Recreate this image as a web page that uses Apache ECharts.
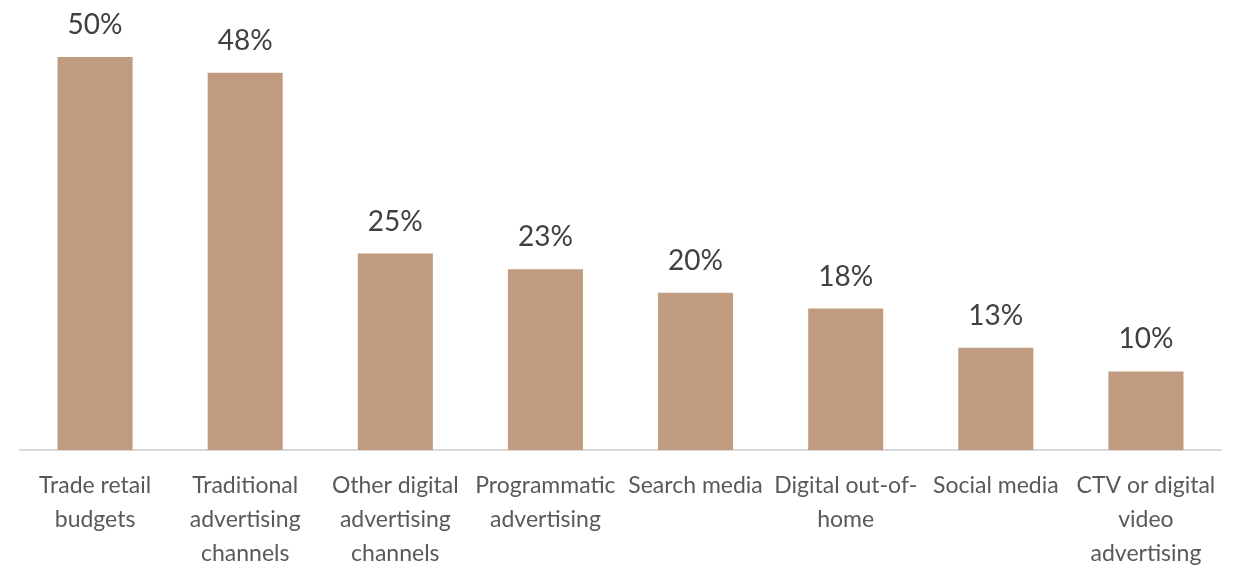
<!DOCTYPE html>
<html>
<head>
<meta charset="utf-8">
<script src="https://cdn.jsdelivr.net/npm/echarts@6/dist/echarts.min.js"></script>
<style>
  html, body { margin: 0; padding: 0; background: #ffffff; }
  #chart { width: 1242px; height: 571px; }
</style>
</head>
<body>
<div id="chart"></div>
<script>
// Channel categories (line breaks as they wrap under each bar)
const categories = [
  'Trade retail\nbudgets',
  'Traditional\nadvertising\nchannels',
  'Other digital\nadvertising\nchannels',
  'Programmatic\nadvertising',
  'Search media',
  'Digital out-of-\nhome',
  'Social media',
  'CTV or digital\nvideo\nadvertising'
];
// Share of respondents, percent
const shares = [50, 48, 25, 23, 20, 18, 13, 10];

const chart = echarts.init(document.getElementById('chart'));
chart.setOption({
  animation: false,
  backgroundColor: '#ffffff',
  grid: { left: 20, right: 21, top: 57, bottom: 118, containLabel: false },
  xAxis: {
    type: 'category',
    data: categories,
    axisLine: { lineStyle: { color: '#d9d9d9', width: 2 } },
    axisTick: { show: false },
    axisLabel: {
      interval: 0,
      margin: 19,
      color: '#595959',
      fontFamily: 'Lato',
      fontSize: 23,
      lineHeight: 34
    }
  },
  yAxis: {
    type: 'value',
    min: 0,
    max: 50,
    show: false,
    splitLine: { show: false }
  },
  series: [{
    type: 'bar',
    data: shares,
    barWidth: '50%',
    itemStyle: { color: '#c09b7f' },
    label: {
      show: true,
      position: 'top',
      distance: 18,
      formatter: '{c}%',
      color: '#404040',
      fontFamily: 'Lato',
      fontSize: 28
    }
  }]
});
</script>
</body>
</html>
